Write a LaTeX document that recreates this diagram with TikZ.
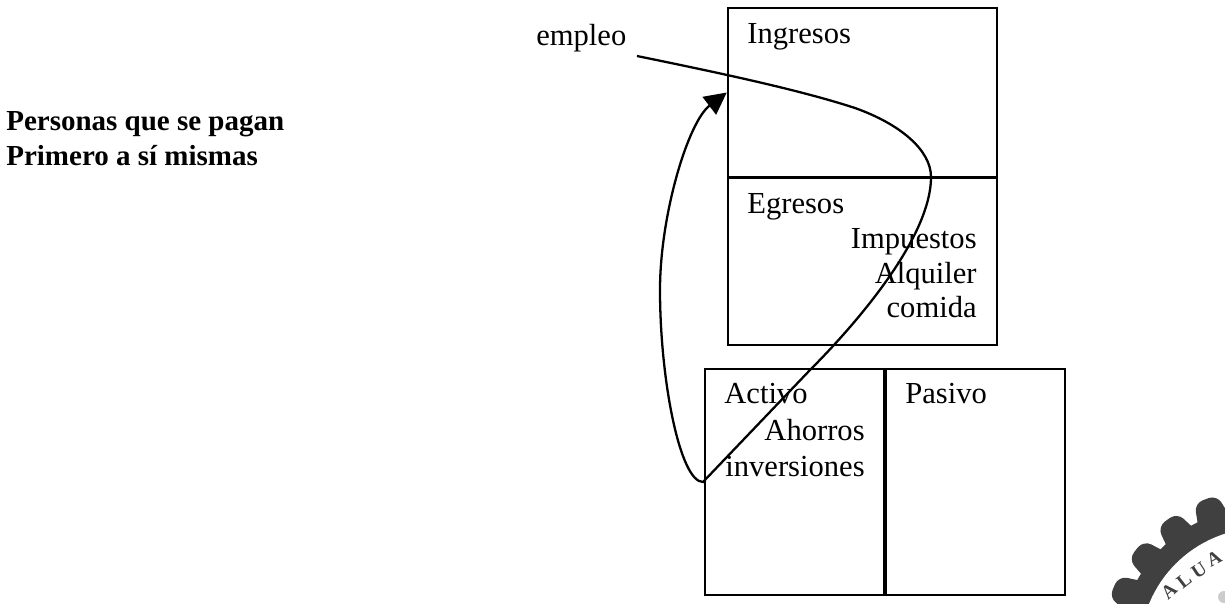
\documentclass[tikz,border=0pt]{standalone}
\usepackage{fontspec}
\setmainfont{Liberation Serif}
\usetikzlibrary{arrows.meta}
\tikzset{
  box/.style={draw,line width=1.4pt,minimum width=#1*.02cm,inner sep=0pt},
  lbl/.style={font=\fontsize{17.4}{18}\selectfont,inner sep=0pt},
  titulo/.style={font=\bfseries\fontsize{16.5}{18}\selectfont,inner sep=0pt,anchor=base west},
  seal/.style={font=\bfseries\fontsize{11}{11}\selectfont,text=black!75,inner sep=0pt},
}
\begin{document}
\begin{tikzpicture}[x=.02cm,y=-.02cm]
      \useasboundingbox (0,0) rectangle (1225,603);
      \def\B[#1,#2,#3,#4,#5]{%
        \node[box=#4,minimum height=#5*.02cm] (#1) at(#2,#3){};
      }
      % boxes
      \B[ingresos,862.5,92.5,269,169]
      \B[egresos,862.5,261.5,269,167]
      \B[activo,794.5,482,179,226]
      \B[pasivo,975.5,482,179,226]
      % labels
      \node[lbl,anchor=base west] (tingresos) at(747,43){Ingresos};
      \node[lbl,anchor=base west] (tegresos) at(747,213){Egresos};
      \node[lbl,anchor=base east] (impuestos) at(977,248){Impuestos};
      \node[lbl,anchor=base east] (alquiler) at(977,283){Alquiler};
      \node[lbl,anchor=base east] (comida) at(977,317){comida};
      \node[lbl,anchor=base west] (tactivo) at(724,403){Activo};
      \node[lbl,anchor=base west] (tpasivo) at(905,403){Pasivo};
      \node[lbl,anchor=base east] (ahorros) at(865,440){Ahorros};
      \node[lbl,anchor=base east] (inversiones) at(865,476){inversiones};
      \node[lbl,anchor=base west] (empleo) at(536,45){empleo};
      \node[titulo] (personas) at(6,130){Personas que se pagan};
      \node[titulo] (primero) at(6,165){Primero a sí mismas};
      % connector
      \coordinate (inicio) at(637,56);
      \coordinate (giro) at(703,482);
      \draw[line width=1.3pt,-{Triangle[length=.44cm,width=.44cm]}] (inicio)
        .. controls (720,73) and (800,90) .. (855,108)
        .. controls (900,124) and (931,150) .. (931,177)
        .. controls (931,240) and (850,330) .. (810,370)
        -- (giro)
        .. controls (680,482) and (660,380) .. (660,290)
        .. controls (660,215) and (688,122) .. (ingresos.west);
      % seal
      \begin{scope}
        \clip (0,0) rectangle (1225,603);
        \begin{scope}[shift={(1262,650)}]
          \foreach \a in{95,110.5,126,141.5,157,172.5}{
            \fill[black!75,rounded corners=5pt,rotate=\a] (130,-18) -- (161,-12) -- (161,12) -- (130,18) -- cycle;
          }
          \fill[black!75] (0,0) circle(143);
          \fill[white] (0,0) circle(122);
        \end{scope}
        \foreach \x/\y/\r/\v in{1169/591/42/A, 1184/581/38/L, 1199/570/33/U, 1214/559/28/A}{
          \node[seal,rotate=\r] at(\x,\y){\v};
        }
        \fill[black!20] (1224,597) circle(6);
      \end{scope}
\end{tikzpicture}
\end{document}
